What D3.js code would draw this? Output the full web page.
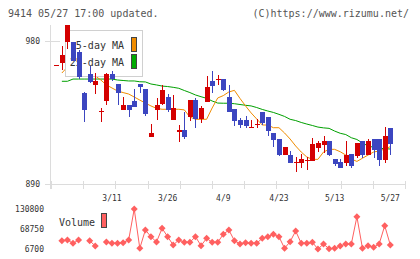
<!DOCTYPE html>
<html>
<head>
<meta charset="utf-8">
<script src="https://cdn.jsdelivr.net/npm/d3@7"></script>
<style>
  body { margin: 0; background: #fff; }
  svg { display: block; }
  text { font-family: "DejaVu Sans Mono", monospace; }
</style>
</head>
<body>
<div id="chart"></div>
<script>

////////////////////////////
// Data    //
////////////////////////////

var opens  = [965, 966, 979, 979.5, 973, 947, 959, 952.5, 936, 942, 959, 953, 937, 940, 942, 953, 950, 919.7, 936.5, 940.5,
              945, 930.5, 922.5, 924, 932.3, 942.8, 930.6, 941.8, 954.8, 956, 956, 945, 937.2, 930.2, 930.2, 925.8, 927.5, 935.3, 932, 922,
              918.3, 908.2, 908.2, 904, 903.4, 905, 904.7, 912.8, 914.5, 917, 905.7, 903.8, 903.4, 908.9, 907.8, 917, 908.2, 918.3, 918.3, 905.1,
              925.2];
var highs  = [965, 977, 990, 979.5, 974, 948, 964.5, 960, 937.5, 960, 961, 953, 944.5, 940, 950, 953, 950, 927.7, 944, 952,
              946.5, 946, 927, 935.5, 943, 944.4, 939, 958, 961, 958.5, 956, 952.3, 937.2, 931.3, 932.8, 930.4, 930.6, 935.3, 932, 922,
              918.3, 913, 910.8, 907, 908.7, 907.2, 918.7, 917, 920, 917, 905.7, 905.7, 917, 908.9, 915.8, 917, 918.3, 918.3, 918.3, 925.8,
              925.2];
var lows   = [965, 962, 975, 967.5, 956, 929, 953.5, 946.5, 929, 940, 955, 939.5, 937, 932, 938.5, 947, 933, 919.7, 930, 940,
              935, 930, 916.5, 918.3, 929.6, 925, 928.6, 941.8, 947.4, 952.3, 948.5, 935.5, 926.7, 925.5, 925.5, 925.8, 925, 927, 920.4, 913.5,
              907.5, 908, 903.4, 897.7, 900.3, 898.6, 904.7, 910.3, 909.5, 907.6, 901.5, 900.3, 901.5, 900.3, 906.5, 906.2, 908.2, 906.5, 901.5, 903.4,
              908.2];
var closes = [965, 971, 990, 967.5, 957, 936.5, 954, 955, 936, 959, 956, 947.5, 940, 937, 938.5, 951, 934, 922.3, 939.7, 949,
              937, 938, 924, 919.7, 942.8, 930.6, 937.7, 951, 951.6, 956, 949, 935.5, 929.6, 927.1, 926.7, 925.8, 928, 928.2, 923.3, 917.7,
              908.2, 913, 903.4, 904, 905.7, 905.2, 915.2, 915.8, 917, 908.4, 902.8, 900.3, 908.2, 901.5, 915.8, 908.2, 917, 911.4, 905.1, 920.2,
              915.4];

var ma5  = [null, 959.8, 963.6, 966, 966, 963, 961, 958, 955.4, 952.3, 950.4, 948.5, 947.5, 946.6, 944.7, 942.8, 940.9, 939.1, 937.6, 937.0,
            937.0, 937.0, 937.0, 936.6, 932.1, 930.7, 930.7, 930.7, 937.8, 944.1, 945.6, 947.9, 948.9, 943.8, 939.1, 934.7, 930.9, 927.1, 927.1, 925.4,
            925.4, 922.1, 918.3, 913.9, 910.1, 907.0, 905.5, 905.5, 910.1, 911.8, 911.8, 910.3, 908.2, 905.7, 904.2, 906.2, 908.2, 910.1, 910.8, 912.0,
            913.5];
var ma25 = [null, 954.6, 954.6, 956.0, 956.0, 956.0, 956.0, 956.0, 956.0, 956.0, 956.0, 955.4, 955.1, 954.8, 954.8, 954.3, 954.2, 952.9, 952.3, 951.6,
            951.3, 950.8, 950.2, 948.8, 947.5, 946.0, 944.9, 943.9, 942.2, 940.9, 940.8, 940.8, 940.5, 940.0, 939.5, 939.1, 938.1, 936.9, 935.9, 935.0,
            933.8, 932.5, 930.7, 929.9, 928.7, 927.7, 926.8, 925.8, 925.3, 925.0, 923.3, 921.9, 921.1, 919.1, 918.0, 915.8, 913.9, 913.1, 912.5, 912.2,
            912.0];

var volumes = [null, 32400, 34600, 24400, 34600, null, 32400, 16000, null, 28400, 24400, 24400, 26300, 34600, 130800, 8900, 65600, 44900, 28400, 70900,
               44900, 19100, 34600, 27500, 27500, 44900, 17000, 39900, 27500, 27500, 52300, 65600, 32400, 22200, 26300, 24400, 24400, 39900, 44900, 52300,
               44900, 8900, 29400, 62500, 24400, 24400, 27500, 6700, 22200, 7500, 8900, 16000, 22200, 22200, 106900, 8900, 17000, 12000, 22200, 79000,
               19100];

var dateLabels = ['3/11', '3/26', '4/9', '4/23', '5/13', '5/27'];
var dateIdx    = [10, 20, 30, 40, 50, 60];
var priceTicks = [890, 980];
var volTicks   = [6700, 68750, 130800];

var width = 420;
var height = 259;

var UP = '#d40000';
var DOWN = '#3c46c0';
var VOLC = '#ff6060';
var AXIS = '#dcdcdc';

var svg = d3.select('#chart')
  .append('svg')
    .attr('width', width)
    .attr('height', height);

var x = d3.scaleLinear().domain([0, opens.length - 1]).range([56.3, 390.3]);
var y = d3.scaleLinear().domain([890, 990]).range([184, 25]);
var yv = d3.scaleLinear().domain([6700, 130800]).range([249, 209]);

var px = function(i){ return Math.round(x(i)); };

////////////////////////////
// Header                 //
////////////////////////////

svg.append('text')
    .attr('x', 8).attr('y', 17)
    .attr('font-size', 10).attr('fill', '#555')
    .text('9414 05/27 17:00 updated.');

svg.append('text')
    .attr('x', 409).attr('y', 17)
    .attr('text-anchor', 'end')
    .attr('font-size', 10).attr('fill', '#555')
    .text('(C)https://www.rizumu.net/');

////////////////////////////
// Axes                   //
////////////////////////////

var axis = svg.append('g').attr('shape-rendering', 'crispEdges');

axis.append('line')
    .attr('x1', 50.5).attr('x2', 50.5)
    .attr('y1', 25).attr('y2', 189)
    .attr('stroke', AXIS);

axis.append('line')
    .attr('x1', 45).attr('x2', 405)
    .attr('y1', 184.5).attr('y2', 184.5)
    .attr('stroke', AXIS);

// evenly spaced grid ticks along the bottom
var gx = d3.scaleLinear().domain([0, 11]).range([51, 405]);
axis.selectAll('.xtick')
    .data(d3.range(12))
  .enter().append('line')
    .attr('class', 'xtick')
    .attr('x1', function(d){ return Math.round(gx(d)) + 0.5; })
    .attr('x2', function(d){ return Math.round(gx(d)) + 0.5; })
    .attr('y1', 181).attr('y2', 189)
    .attr('stroke', AXIS);

axis.selectAll('.ytick')
    .data(priceTicks)
  .enter().append('line')
    .attr('class', 'ytick')
    .attr('x1', 45).attr('x2', 60)
    .attr('y1', function(d){ return Math.round(y(d)) + 0.5; })
    .attr('y2', function(d){ return Math.round(y(d)) + 0.5; })
    .attr('stroke', AXIS);

svg.selectAll('.ylabel')
    .data(priceTicks)
  .enter().append('text')
    .attr('class', 'ylabel')
    .attr('x', 40).attr('y', function(d){ return y(d) + 3; })
    .attr('text-anchor', 'end')
    .attr('font-size', 8).attr('fill', '#333')
    .text(function(d){ return d; });

svg.selectAll('.xlabel')
    .data(dateLabels)
  .enter().append('text')
    .attr('class', 'xlabel')
    .attr('x', function(d, i){ return x(dateIdx[i]); })
    .attr('y', 201)
    .attr('text-anchor', 'middle')
    .attr('font-size', 8).attr('fill', '#333')
    .text(function(d){ return d; });

////////////////////////////
// Moving averages        //
////////////////////////////

var maLine = d3.line()
    .defined(function(d){ return d != null; })
    .x(function(d, i){ return x(i); })
    .y(function(d){ return y(d); });

svg.append('path')
    .datum(ma25)
    .attr('d', maLine)
    .attr('fill', 'none')
    .attr('stroke', '#00a000')
    .attr('stroke-width', 1);

svg.append('path')
    .datum(ma5)
    .attr('d', maLine)
    .attr('fill', 'none')
    .attr('stroke', '#f08c00')
    .attr('stroke-width', 1);

////////////////////////////
// Legend (under candles) //
////////////////////////////

var legend = svg.append('g').attr('shape-rendering', 'crispEdges');

legend.append('rect')
    .attr('x', 65.5).attr('y', 30.5)
    .attr('width', 77).attr('height', 46)
    .attr('fill', '#fff')
    .attr('stroke', '#d0d0d0');

var legendItems = [
  {label: '5-day MA', color: '#f08c00', y: 45},
  {label: '25-day MA', color: '#00aa00', y: 62}
];

legendItems.forEach(function(d){
  legend.append('text')
      .attr('x', 124).attr('y', d.y + 4)
      .attr('text-anchor', 'end')
      .attr('font-size', 10).attr('fill', '#333')
      .attr('shape-rendering', null)
      .text(d.label);
  legend.append('rect')
      .attr('x', 131.5).attr('y', d.y - 7.5)
      .attr('width', 5).attr('height', 14)
      .attr('fill', d.color)
      .attr('stroke', '#444');
});

////////////////////////////
// Candles                //
////////////////////////////

var candles = svg.append('g')
    .attr('shape-rendering', 'crispEdges')
  .selectAll('g')
    .data(opens.map(function(o, i){
      return {i: i, o: o, h: highs[i], l: lows[i], c: closes[i]};
    }))
  .enter().append('g');

var candleColor = function(d){ return d.c >= d.o ? UP : DOWN; };

candles.append('line')
    .attr('x1', function(d){ return px(d.i) + 0.5; })
    .attr('x2', function(d){ return px(d.i) + 0.5; })
    .attr('y1', function(d){ return y(d.h); })
    .attr('y2', function(d){ return y(d.l); })
    .attr('stroke', candleColor);

candles.append('rect')
    .attr('x', function(d){ return px(d.i) - 2; })
    .attr('width', 5)
    .attr('y', function(d){ return Math.round(y(Math.max(d.o, d.c))); })
    .attr('height', function(d){ return Math.max(1, Math.round(Math.abs(y(d.o) - y(d.c)))); })
    .attr('fill', candleColor);

////////////////////////////
// Volume                 //
////////////////////////////

svg.selectAll('.vlabel')
    .data(volTicks)
  .enter().append('text')
    .attr('class', 'vlabel')
    .attr('x', 44).attr('y', function(d){ return yv(d) + 3; })
    .attr('text-anchor', 'end')
    .attr('font-size', 8).attr('fill', '#333')
    .text(function(d){ return d; });

svg.append('text')
    .attr('x', 59).attr('y', 226)
    .attr('font-size', 10).attr('fill', '#333')
    .text('Volume');

svg.append('rect')
    .attr('x', 101.5).attr('y', 213.5)
    .attr('width', 5).attr('height', 14)
    .attr('fill', VOLC)
    .attr('stroke', '#444')
    .attr('shape-rendering', 'crispEdges');

var volLine = d3.line()
    .defined(function(d){ return d != null; })
    .x(function(d, i){ return x(i); })
    .y(function(d){ return yv(d); });

svg.append('path')
    .datum(volumes)
    .attr('d', volLine)
    .attr('fill', 'none')
    .attr('stroke', VOLC)
    .attr('stroke-width', 1);

var diamond = function(cx, cy, r){
  return 'M' + cx + ',' + (cy - r) + 'L' + (cx + r) + ',' + cy +
         'L' + cx + ',' + (cy + r) + 'L' + (cx - r) + ',' + cy + 'Z';
};

svg.selectAll('.vdot')
    .data(volumes.map(function(v, i){ return {v: v, i: i}; })
      .filter(function(d){ return d.v != null; }))
  .enter().append('path')
    .attr('class', 'vdot')
    .attr('d', function(d){ return diamond(x(d.i), yv(d.v), 3.5); })
    .attr('fill', VOLC);

</script>
</body>
</html>
